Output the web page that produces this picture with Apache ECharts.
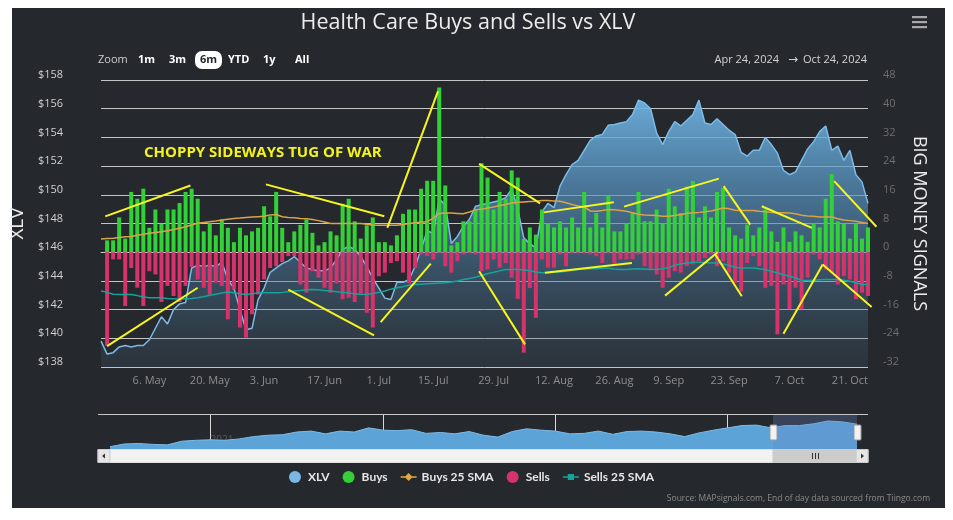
<!DOCTYPE html>
<html><head><meta charset="utf-8">
<script src="https://cdn.jsdelivr.net/npm/echarts@6/dist/echarts.min.js"></script>
<style>
html,body{margin:0;padding:0;background:#ffffff;}
#card{position:absolute;left:12px;top:8px;width:933px;height:500px;background:#25282c;}
#main{position:absolute;left:0;top:0;width:953px;height:520px;}
</style></head><body>
<div id="card"></div><div id="main"></div>
<script>
// ---------- categories ----------
const holidays = ['2024-05-27','2024-06-19','2024-07-04','2024-09-02'];
const dates = [];
for (let d = new Date(Date.UTC(2024,3,24)); d <= new Date(Date.UTC(2024,9,24)); d.setUTCDate(d.getUTCDate()+1)) {
  const wd = d.getUTCDay(); const s = d.toISOString().slice(0,10);
  if (wd > 0 && wd < 6 && holidays.indexOf(s) < 0) dates.push(s);
}
const tickDates = ['2024-05-06','2024-05-20','2024-06-03','2024-06-17','2024-07-01','2024-07-15','2024-07-29','2024-08-12','2024-08-26','2024-09-09','2024-09-23','2024-10-07','2024-10-21'];
const monthAbbr = ['Jan','Feb','Mar','Apr','May','Jun','Jul','Aug','Sep','Oct','Nov','Dec'];

// ---------- series values ----------
const xlv = [139.8,138.9,139.0,139.4,139.5,139.4,139.5,139.5,139.9,140.7,141.5,141.0,142.0,142.4,142.5,144.9,145.1,145.0,145.1,145.0,
145.3,144.1,143.5,142.0,140.6,140.7,142.7,143.5,144.6,144.9,145.2,145.4,145.7,145.3,144.9,144.8,144.7,144.7,144.9,145.5,
146.2,146.4,146.2,145.7,145.0,144.2,143.5,142.8,142.7,143.9,143.9,144.1,145.0,146.2,147.5,147.3,149.7,149.3,146.6,147.1,
147.8,148.3,149.2,149.3,149.4,149.5,149.6,149.8,150.4,149.0,147.0,146.6,146.3,148.8,149.4,149.1,150.6,151.4,152.1,152.4,
153.1,153.8,154.1,154.2,154.85,154.9,155.0,155.1,155.6,156.6,156.4,156.0,154.3,153.5,154.4,155.1,154.8,155.2,155.6,156.6,
155.0,154.9,155.3,154.9,154.5,154.2,152.95,152.7,153.1,153.1,154.0,153.5,152.9,151.7,151.4,151.6,152.4,153.2,153.7,154.4,
154.8,153.1,153.4,152.4,153.1,151.4,150.9,149.4];

const buys = [null,3.3,3.3,9.7,3.8,16.8,14.9,17.7,6.8,11.9,8.0,11.9,11.9,13.7,16.8,17.7,14.9,5.8,8.1,4.7,
9.1,6.8,2.8,6.8,4.7,5.8,6.8,12.8,10.0,16.8,6.8,2.8,5.8,7.6,9.1,5.4,1.9,2.8,5.8,4.7,
13.5,14.9,8.6,3.8,7.5,9.7,2.8,2.8,1.9,4.7,10.7,11.9,11.9,17.7,19.9,19.9,45.9,18.6,1.9,2.8,
8.6,8.6,11.9,24.8,20.8,11.9,16.8,14.9,22.8,20.8,3.7,6.9,4.9,11.9,8.0,6.9,8.6,6.9,9.7,6.9,
16.8,6.9,10.9,6.9,15.8,5.8,5.8,8.0,10.9,16.8,8.6,8.6,11.9,8.0,17.7,12.8,10.9,18.3,19.9,9.7,
12.8,9.7,16.8,17.9,6.9,4.7,3.8,7.7,4.7,6.9,11.9,5.8,2.9,6.9,2.9,5.8,4.7,2.9,8.0,6.9,
14.9,21.8,8.6,8.0,3.8,8.0,3.8,6.9];

const sells = [null,-26.1,-2.0,-2.0,-15.0,-4.4,-9.9,-15.0,-5.3,-6.2,-13.9,-9.4,-12.2,-13.9,-9.4,-4.1,-7.6,-9.9,-11.8,-8.5,
-9.4,-18.7,-10.4,-21.0,-23.8,-17.3,-11.8,-7.6,-4.4,-3.9,-2.8,-1.1,-1.1,-9.0,-11.3,-5.3,-7.1,-9.9,-11.3,-8.7,
-13.1,-12.7,-13.9,-11.6,-16.9,-21.0,-6.7,-5.7,-3.0,-2.5,-5.7,-8.7,-4.4,-0.6,-1.1,-2.0,-0.2,-3.9,-5.7,-2.5,
-0.6,-0.2,-0.6,-5.3,-4.8,-2.0,-4.3,-3.0,-7.1,-13.0,-28.0,-10.0,-18.3,-2.0,-4.3,-4.3,-0.6,-3.9,-0.3,-0.3,
-0.3,-0.6,-1.1,-3.0,-0.3,-3.2,-2.0,-2.0,-2.0,-0.6,-3.9,-4.8,-6.2,-9.9,-7.1,-5.3,-5.7,-3.9,-3.4,-2.5,
-1.6,-0.6,-3.9,-2.5,-5.7,-8.5,-11.0,-3.0,-1.1,-3.9,-9.9,-9.4,-22.9,-9.0,-15.9,-9.9,-15.9,-7.1,-0.6,-2.0,
-4.8,-5.7,-9.0,-6.7,-7.6,-13.1,-11.3,-12.2];

const buysSma = [3.7,3.8,3.9,4.1,4.3,4.4,4.7,5.0,5.3,5.5,5.7,6.0,6.3,6.7,7.1,7.6,8.1,8.3,8.5,8.7,
9.0,9.2,9.4,9.5,9.7,9.8,9.9,10.0,10.4,10.5,9.9,9.7,9.6,9.4,9.3,9.1,8.8,8.4,8.0,8.0,
8.0,8.0,8.0,8.0,7.8,7.6,7.5,7.5,7.5,7.5,7.7,8.0,8.2,8.4,8.5,9.5,10.8,10.9,10.9,10.8,
10.7,11.2,11.8,12.0,12.3,12.6,13.0,13.3,13.7,13.9,14.0,14.1,14.2,14.4,14.4,14.3,14.2,13.8,13.3,12.9,
12.6,11.5,11.4,11.6,11.9,11.8,11.6,11.4,11.0,10.6,10.4,10.3,10.2,10.0,10.0,10.2,10.5,10.8,11.0,11.1,
11.3,11.5,11.9,12.3,12.1,11.7,11.6,11.6,11.6,11.4,11.3,11.1,11.0,11.0,10.9,10.7,10.3,10.1,10.0,9.8,
9.8,9.8,9.3,9.0,8.8,8.6,8.3,8.0];

const sellsSma = [-10.8,-11.2,-11.7,-11.8,-11.8,-11.8,-12.1,-12.5,-12.7,-12.7,-12.7,-12.9,-13.0,-13.1,-13.0,-12.9,-12.7,-12.4,-12.0,-11.7,
-11.4,-11.1,-11.3,-11.6,-11.8,-11.6,-11.4,-11.3,-11.3,-11.3,-11.2,-11.0,-10.8,-10.7,-10.5,-10.4,-10.5,-10.7,-10.8,-11.0,
-11.2,-11.4,-11.6,-11.8,-11.7,-11.5,-11.2,-10.8,-10.3,-9.9,-9.6,-9.2,-9.0,-8.9,-8.8,-8.7,-8.6,-8.5,-8.3,-8.0,
-7.6,-7.3,-7.0,-6.5,-6.0,-5.6,-5.2,-4.8,-4.8,-4.8,-4.9,-5.2,-5.5,-5.7,-5.7,-5.6,-5.5,-5.3,-5.1,-4.8,
-4.7,-4.6,-4.6,-4.5,-4.5,-4.7,-4.8,-4.8,-4.7,-4.6,-4.7,-4.8,-4.8,-4.6,-4.3,-3.6,-3.3,-3.0,-2.8,-2.8,
-2.9,-3.0,-3.0,-3.3,-3.7,-4.2,-4.4,-4.4,-4.4,-4.6,-4.9,-5.3,-5.8,-6.3,-6.7,-7.2,-7.8,-7.9,-7.8,-7.7,
-7.6,-7.6,-7.6,-7.8,-8.1,-8.5,-9.0,-9.0];

// hand-drawn trend annotations: [startIndex, startValue, endIndex, endValue] on the signals axis
const annotations = [
  [0.7,10.0,14.8,18.6],[1.0,-26.2,16.0,-9.9],[27.3,18.9,46.9,10.0],[31.0,-10.4,45.2,-23.2],
  [47.4,6.8,55.8,44.9],[46.3,-19.5,54.6,-3.2],[62.6,24.6,72.7,13.6],[62.6,-5.3,70.2,-25.7],
  [73.3,11.1,84.9,13.9],[73.5,-5.7,87.9,-3.0],[86.6,12.7,102.3,20.5],[93.4,-12.1,102.1,0],
  [101.7,-0.6,106.1,-12.3],[103.1,18.4,107.5,7.7],[109.4,12.8,117.7,6.8],[113.0,-22.7,119.5,-3.4],
  [119.5,-3.4,127.6,-15.3],[121.4,19.8,128.4,7.1]
];

// navigator (long history, monthly)
const navMonths = [];
for (let y = 2020, m = 5; y < 2024 || (y === 2024 && m <= 9); m++) { if (m > 11) { m = 0; y++; } navMonths.push(y + '-' + String(m+1).padStart(2,'0')); }
const navValues = [100,106,107,105,104,112,114,
115,114,117,122,125,126,132,134,128,134,132,141,
136,135,137,129,131,128,133,125,121,133,139,136,
134,128,129,134,127,133,134,132,128,122,130,136,
141,146,147,141,146,146,150,156,154,149];

const leftTicks = {min:138, max:158, step:2};
const rightTicks = {min:-32, max:48, step:8};

// ---------- chart ----------
const chart = echarts.init(document.getElementById('main'), null, {renderer:'canvas'});
const FONT = '"Open Sans", "Noto Sans", sans-serif';
const fmtDate = v => { const p = v.split('-'); return (+p[2]) + '. ' + monthAbbr[+p[1]-1]; };
const diamondIcon = 'path://M0,5.2 L18,5.2 L18,6.8 L0,6.8 Z M9,1.5 L13.5,6 L9,10.5 L4.5,6 Z';
const squareIcon = 'path://M0,5.2 L18,5.2 L18,6.8 L0,6.8 Z M5.5,2.5 L12.5,2.5 L12.5,9.5 L5.5,9.5 Z';

const areaGrad = new echarts.graphic.LinearGradient(0,0,0,1,[
  {offset:0, color:'rgba(112,182,230,0.92)'},
  {offset:0.45, color:'rgba(82,140,185,0.62)'},
  {offset:1, color:'rgba(70,100,125,0.2)'}
]);

const graphics = [
  {type:'text', x:468, y:23, z:20, style:{text:'Health Care Buys and Sells vs XLV', align:'center', verticalAlign:'middle', fill:'#ececec', fontSize:21.5, fontFamily:FONT}},
  // hamburger
  {type:'rect', shape:{x:912,y:16,width:15,height:2.2}, style:{fill:'#a8a8a8'}},
  {type:'rect', shape:{x:912,y:21,width:15,height:2.2}, style:{fill:'#a8a8a8'}},
  {type:'rect', shape:{x:912,y:26,width:15,height:2.2}, style:{fill:'#a8a8a8'}},
  // range selector
  {type:'text', x:98, y:60, style:{text:'Zoom', verticalAlign:'middle', fill:'#cfcfcf', fontSize:11, fontFamily:FONT}},
  {type:'text', x:138, y:60, style:{text:'1m', verticalAlign:'middle', fill:'#ffffff', fontSize:11, fontWeight:'bold', fontFamily:FONT}},
  {type:'text', x:169, y:60, style:{text:'3m', verticalAlign:'middle', fill:'#ffffff', fontSize:11, fontWeight:'bold', fontFamily:FONT}},
  {type:'rect', shape:{x:195,y:51,width:27,height:18,r:7}, style:{fill:'#ffffff'}},
  {type:'text', x:208.5, y:60, style:{text:'6m', align:'center', verticalAlign:'middle', fill:'#25282c', fontSize:11, fontWeight:'bold', fontFamily:FONT}},
  {type:'text', x:228, y:60, style:{text:'YTD', verticalAlign:'middle', fill:'#ffffff', fontSize:11, fontWeight:'bold', fontFamily:FONT}},
  {type:'text', x:263, y:60, style:{text:'1y', verticalAlign:'middle', fill:'#ffffff', fontSize:11, fontWeight:'bold', fontFamily:FONT}},
  {type:'text', x:295, y:60, style:{text:'All', verticalAlign:'middle', fill:'#ffffff', fontSize:11, fontWeight:'bold', fontFamily:FONT}},
  {type:'text', x:779, y:60, style:{text:'Apr 24, 2024', align:'right', verticalAlign:'middle', fill:'#d2d2d2', fontSize:11, fontFamily:FONT}},
  {type:'text', x:793, y:60, style:{text:'\u2192', align:'center', verticalAlign:'middle', fill:'#d2d2d2', fontSize:12, fontFamily:'"DejaVu Sans", sans-serif'}},
  {type:'text', x:867, y:60, style:{text:'Oct 24, 2024', align:'right', verticalAlign:'middle', fill:'#d2d2d2', fontSize:11, fontFamily:FONT}},
  // annotation text
  {type:'text', x:144, y:153, z:30, style:{text:'CHOPPY SIDEWAYS TUG OF WAR', verticalAlign:'middle', fill:'#f4f41c', fontSize:15, fontWeight:'bold', fontFamily:FONT}},
  // navigator outline + mask + handles
  {type:'line', shape:{x1:98,y1:414.5,x2:868,y2:414.5}, style:{stroke:'#c8c8c8', lineWidth:1}},
  {type:'rect', z:5, shape:{x:773,y:415,width:84,height:34}, style:{fill:'rgba(102,133,194,0.3)'}},
  {type:'rect', z:6, shape:{x:770,y:425,width:7,height:15,r:1}, style:{fill:'#f2f2f2', stroke:'#999', lineWidth:1}},
  {type:'rect', z:6, shape:{x:854,y:425,width:7,height:15,r:1}, style:{fill:'#f2f2f2', stroke:'#999', lineWidth:1}},
  // scrollbar
  {type:'rect', shape:{x:98,y:449.5,width:770,height:13}, style:{fill:'#f2f2f2', stroke:'#e0e0e0'}},
  {type:'rect', shape:{x:98,y:449.5,width:12,height:13}, style:{fill:'#e6e6e6', stroke:'#cccccc'}},
  {type:'polygon', shape:{points:[[102,456],[105,453.5],[105,458.5]]}, style:{fill:'#333'}},
  {type:'rect', shape:{x:856,y:449.5,width:12,height:13}, style:{fill:'#e6e6e6', stroke:'#cccccc'}},
  {type:'polygon', shape:{points:[[864,456],[861,453.5],[861,458.5]]}, style:{fill:'#333'}},
  {type:'rect', shape:{x:773,y:449.5,width:83,height:13}, style:{fill:'#cccccc', stroke:'#cccccc'}},
  {type:'line', shape:{x1:812.5,y1:453,x2:812.5,y2:459}, style:{stroke:'#333', lineWidth:1}},
  {type:'line', shape:{x1:815.5,y1:453,x2:815.5,y2:459}, style:{stroke:'#333', lineWidth:1}},
  {type:'line', shape:{x1:818.5,y1:453,x2:818.5,y2:459}, style:{stroke:'#333', lineWidth:1}},
  // source
  {type:'text', x:930, y:499, style:{text:'Source: MAPsignals.com, End of day data sourced from Tiingo.com', align:'right', verticalAlign:'middle', fill:'#8a8a8a', fontSize:8.5, fontFamily:FONT}}
];

const option = {
  animation:false,
  backgroundColor:'transparent',
  textStyle:{fontFamily:FONT},
  grid:[
    {left:98, top:80, width:770, height:287, containLabel:false},
    {left:110, top:415, width:747, height:34, containLabel:false}
  ],
  legend:{
    left:284, top:466, itemWidth:16, itemHeight:12, itemGap:13,
    textStyle:{color:'#e6e6e6', fontSize:12, fontWeight:'bold', fontFamily:'Lato, "Open Sans", sans-serif'},
    data:[
      {name:'XLV', icon:'circle'},
      {name:'Buys', icon:'circle'},
      {name:'Buys 25 SMA', icon:diamondIcon},
      {name:'Sells', icon:'circle'},
      {name:'Sells 25 SMA', icon:squareIcon}
    ],
    selectedMode:false
  },
  xAxis:[
    {type:'category', gridIndex:0, data:dates, boundaryGap:false,
     axisLine:{lineStyle:{color:'#c8c8c8', width:1}},
     axisTick:{show:true, interval:(i,v)=>tickDates.indexOf(v)>=0, length:7, lineStyle:{color:'#b4b4b4'}},
     axisLabel:{interval:(i,v)=>tickDates.indexOf(v)>=0, formatter:fmtDate, color:'#8e8e8e', fontSize:11, margin:8},
     splitLine:{show:false}},
    {type:'value', gridIndex:0, min:0, max:dates.length-1, show:false, position:'top'},
    {type:'category', gridIndex:1, data:navMonths, boundaryGap:false,
     axisLine:{show:false}, axisTick:{show:false},
     axisLabel:{show:true, inside:true, interval:(i,v)=>v.slice(5)==='01', formatter:v=>v.slice(0,4), color:'rgba(210,225,240,0.25)', fontSize:10, align:'left', margin:4},
     splitLine:{show:true, interval:(i,v)=>v.slice(5)==='01', lineStyle:{color:'#d8d8d8', width:1}}}
  ],
  yAxis:[
    {type:'value', gridIndex:0, min:leftTicks.min, max:leftTicks.max, interval:leftTicks.step, position:'left',
     name:'XLV', nameLocation:'middle', nameRotate:90, nameGap:54, nameTextStyle:{color:'#ececec', fontSize:19, fontFamily:FONT},
     axisLine:{show:false}, axisTick:{show:false},
     axisLabel:{formatter:v=>'$'+v, color:'#d0d0d0', fontSize:11, margin:38, verticalAlign:'bottom', lineHeight:10},
     splitLine:{show:true, lineStyle:{color:'#c4c4c4', width:1}}},
    {type:'value', gridIndex:0, min:rightTicks.min, max:rightTicks.max, interval:rightTicks.step, position:'right',
     name:'BIG MONEY SIGNALS', nameLocation:'middle', nameRotate:-90, nameGap:28, nameTextStyle:{color:'#ececec', fontSize:18, fontFamily:FONT},
     axisLine:{show:false}, axisTick:{show:false},
     axisLabel:{color:'#6e6e6e', fontSize:11, margin:15, verticalAlign:'bottom', lineHeight:10},
     splitLine:{show:false}},
    {type:'value', gridIndex:1, min:95, max:169, show:false}
  ],
  series:[
    {name:'XLV', type:'line', xAxisIndex:0, yAxisIndex:0, data:xlv, symbol:'none', z:1,
     lineStyle:{color:'#7dbbe6', width:1.5}, itemStyle:{color:'#79b8e4'},
     areaStyle:{color:areaGrad, origin:'start', opacity:1}},
    {name:'Buys', type:'bar', xAxisIndex:0, yAxisIndex:1, data:buys, stack:'sig', barWidth:4, clip:false, z:3,
     itemStyle:{color:'#33d138'}},
    {name:'Buys 25 SMA', type:'line', xAxisIndex:0, yAxisIndex:1, data:buysSma, symbol:'none', z:4,
     lineStyle:{color:'#d9a445', width:1.5}, itemStyle:{color:'#e0a93a'}},
    {name:'Sells', type:'bar', xAxisIndex:0, yAxisIndex:1, data:sells, stack:'sig', barWidth:4, clip:false, z:3,
     itemStyle:{color:'#d6336c'}},
    {name:'Sells 25 SMA', type:'line', xAxisIndex:0, yAxisIndex:1, data:sellsSma, symbol:'none', z:4,
     lineStyle:{color:'#17a39a', width:1.5}, itemStyle:{color:'#17a39a'}},
    {name:'trend', type:'lines', coordinateSystem:'cartesian2d', xAxisIndex:1, yAxisIndex:1, z:10, clip:false, silent:true,
     lineStyle:{color:'#f6f61e', width:2, opacity:1},
     data:annotations.map(a=>({coords:[[a[0],a[1]],[a[2],a[3]]]}))},
    {name:'navigator', type:'line', xAxisIndex:2, yAxisIndex:2, data:navValues, symbol:'none', silent:true, z:2,
     lineStyle:{color:'#7dbbe6', width:1}, areaStyle:{color:'#5ca4d8', origin:'start', opacity:1}}
  ],
  graphic:graphics
};
chart.setOption(option);
</script></body></html>
